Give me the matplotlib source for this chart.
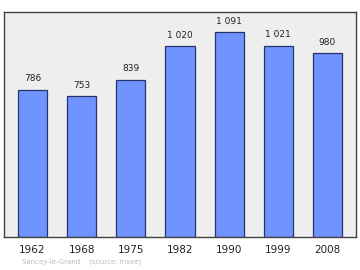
import numpy as np
import matplotlib.pyplot as plt

years = ['1962', '1968', '1975', '1982', '1990', '1999', '2008']
population = [786, 753, 839, 1020, 1091, 1021, 980]
labels = ['786', '753', '839', '1 020', '1 091', '1 021', '980']

fig = plt.figure(figsize=(3.6, 2.7), dpi=100)
ax = fig.add_axes([4 / 360, 33 / 270, 352 / 360, 225 / 270])
ax.set_facecolor('#eeeeee')

x = np.arange(len(years))
ax.bar(x, population, width=0.59, color='#7094ff', edgecolor='#25336b', linewidth=0.9)

for xi, val, lab in zip(x, population, labels):
    ax.annotate(lab, (xi, val), xytext=(0, 4.5), textcoords='offset points',
                ha='center', va='bottom', fontsize=6.5, color='#222222')

ax.set_xlim(-0.58, 6.58)
ax.set_ylim(0, 1200)
ax.set_yticks([])
ax.set_xticks(x)
ax.set_xticklabels(years, fontsize=7.5, color='#222222')
ax.tick_params(axis='x', length=0, pad=6)
for s in ax.spines.values():
    s.set_color('#444444')
    s.set_linewidth(1.0)

fig.text(22 / 360, 1 - 262 / 270, 'Sancey-le-Grand    (source: Insee)',
         fontsize=5, color='#bbbbbb', va='center', ha='left')

fig.savefig('out.png', dpi=100)
